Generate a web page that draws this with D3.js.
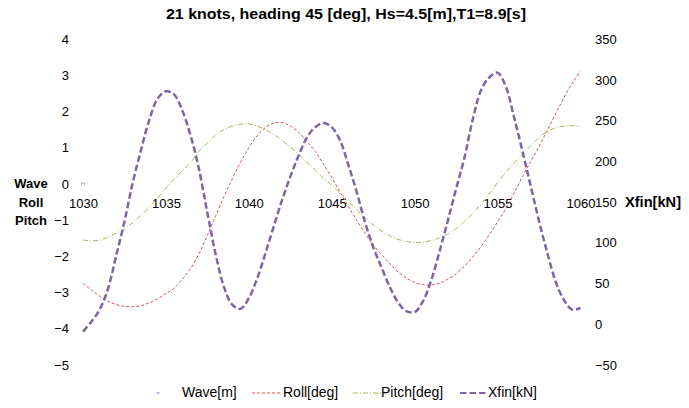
<!DOCTYPE html>
<html><head><meta charset="utf-8">
<script src="https://cdn.jsdelivr.net/npm/d3@7/dist/d3.min.js"></script>
<style>
body{margin:0;background:#fff}
svg{display:block}
text{font-family:"Liberation Sans",Arial,sans-serif;fill:#000}
</style>
</head><body>
<svg id="chart" width="689" height="408"></svg>
<script>
const titleText = "21 knots, heading 45 [deg], Hs=4.5[m],T1=8.9[s]";
const leftTitle = ["Wave", "Roll", "Pitch"];
const rightTitle = "Xfin[kN]";

const time = [1030,1030.5,1031,1031.5,1032,1032.5,1033,1033.5,1034,1034.5,1035,1035.5,1036,1036.5,1037,1037.5,1038,1038.5,1039,1039.5,
  1040,1040.5,1041,1041.5,1042,1042.5,1043,1043.5,1044,1044.5,1045,1045.5,1046,1046.5,1047,1047.5,1048,1048.5,1049,1049.5,
  1050,1050.5,1051,1051.5,1052,1052.5,1053,1053.5,1054,1054.5,1055,1055.5,1056,1056.5,1057,1057.5,1058,1058.5,1059,1059.5,1060];

const waveTime = [1030];
const wave = [0];

const roll = [-2.74,-2.93,-3.10,-3.24,-3.33,-3.38,-3.39,-3.36,-3.28,-3.17,-3.03,-2.88,-2.62,-2.33,-1.92,-1.42,-0.88,-0.35,0.14,0.60,
  1.00,1.33,1.56,1.68,1.70,1.60,1.43,1.18,0.90,0.55,0.18,-0.22,-0.62,-1.00,-1.35,-1.68,-1.95,-2.20,-2.43,-2.60,
  -2.72,-2.78,-2.79,-2.74,-2.63,-2.48,-2.27,-2.02,-1.73,-1.41,-1.05,-0.68,-0.25,0.20,0.62,1.03,1.48,1.93,2.38,2.78,3.12];

const pitch = [-1.55,-1.57,-1.55,-1.47,-1.36,-1.25,-1.06,-0.86,-0.64,-0.39,-0.11,0.14,0.37,0.60,0.91,1.14,1.35,1.50,1.60,1.65,
  1.66,1.60,1.50,1.37,1.20,1.02,0.82,0.60,0.38,0.16,-0.03,-0.25,-0.48,-0.71,-0.93,-1.13,-1.30,-1.43,-1.53,-1.59,
  -1.62,-1.61,-1.56,-1.49,-1.38,-1.23,-1.04,-0.82,-0.55,-0.28,0.04,0.32,0.58,0.82,1.05,1.28,1.45,1.55,1.60,1.61,1.58];

const xfin = [-9,3,18,43,84,126,174,214,251,277,286,282,262,231,190,137,86,46,24,19,
  32,56,87,120,152,181,207,229,242,247,242,226,196,163,126,95,70,46,27,16,
  15,28,54,89,127,166,204,251,287,303,309,292,254,213,170,127,88,53,30,18,20];

const xTicks = [1030,1035,1040,1045,1050,1055,1060];
const leftTicks = [4,3,2,1,0,-1,-2,-3,-4,-5];
const rightTicks = [350,300,250,200,150,100,50,0,-50];

const seriesNames = ["Wave[m]","Roll[deg]","Pitch[deg]","Xfin[kN]"];
const seriesColors = ["#4F81BD","#D9534F","#9BBB59","#8064A2"];
const seriesDash = ["2,30","3,2","5,2,1,2","6.5,3"];
const seriesWidth = [1,1,1,2.5];

const svg = d3.select("#chart");
const L = 83, R = 580.4, T = 39.2, B = 365;

const x = d3.scaleLinear().domain([1030,1060]).range([L,R]);
const yL = d3.scaleLinear().domain([-5,4]).range([B,T]);
const yR = d3.scaleLinear().domain([-50,350]).range([B,T]);

// title
svg.append("text").attr("x",346).attr("y",19).attr("text-anchor","middle")
  .attr("font-size",15).attr("font-weight","bold")
  .attr("textLength",360).attr("lengthAdjust","spacingAndGlyphs")
  .text(titleText);

// left axis
const gl = svg.append("g").attr("transform","translate(69,0)")
  .call(d3.axisLeft(yL).tickValues(leftTicks).tickSize(0).tickPadding(0).tickFormat(d3.format("d")));
gl.select(".domain").remove();
gl.selectAll("text").attr("font-size",13).attr("font-family","Liberation Sans, Arial, sans-serif").attr("fill","#000");

// right axis
const gr = svg.append("g").attr("transform","translate(595,0)")
  .call(d3.axisRight(yR).tickValues(rightTicks).tickSize(0).tickPadding(0).tickFormat(d3.format("d")));
gr.select(".domain").remove();
gr.selectAll("text").attr("font-size",13).attr("font-family","Liberation Sans, Arial, sans-serif").attr("fill","#000");

// bottom axis crossing at 0
const gb = svg.append("g").attr("transform",`translate(0,${yL(0)})`)
  .call(d3.axisBottom(x).tickValues(xTicks).tickSize(0).tickPadding(15).tickFormat(d3.format("d")));
gb.select(".domain").remove();
gb.selectAll("text").attr("font-size",13).attr("font-family","Liberation Sans, Arial, sans-serif").attr("fill","#000");

// axis titles
leftTitle.forEach((s,i)=>{
  svg.append("text").attr("x",31).attr("y",188+i*18.5).attr("text-anchor","middle")
    .attr("font-size",13).attr("font-weight","bold").text(s);
});
svg.append("text").attr("x",625).attr("y",207).attr("font-size",14).attr("font-weight","bold")
  .attr("textLength",56).attr("lengthAdjust","spacingAndGlyphs").text(rightTitle);

// series
const mk = (vals, ts) => vals.map((v,i)=>({t:ts[i], v}));
const lineL = d3.line().x(d=>x(d.t)).y(d=>yL(d.v)).curve(d3.curveCatmullRom);
const lineR = d3.line().x(d=>x(d.t)).y(d=>yR(d.v)).curve(d3.curveCatmullRom);

const plotSeries = [
  {data: mk(roll,time), line: lineL, i:1},
  {data: mk(pitch,time), line: lineL, i:2},
  {data: mk(xfin,time), line: lineR, i:3}
];
plotSeries.forEach(s=>{
  svg.append("path").attr("d",s.line(s.data)).attr("fill","none")
    .attr("stroke",seriesColors[s.i]).attr("stroke-width",seriesWidth[s.i])
    .attr("stroke-dasharray",seriesDash[s.i]);
});
// wave (single point)
mk(wave,waveTime).forEach(d=>{
  svg.append("path").attr("d",`M${x(d.t)-1.5},${yL(d.v)+1}v-2h3v2`).attr("fill","none")
    .attr("stroke","#999").attr("stroke-width",0.8);
});

// legend
const legX = [{sx:152,tx:182},{sx:252,tx:283},{sx:353,tx:381},{sx:460,tx:488}];
seriesNames.forEach((n,i)=>{
  const p = legX[i];
  if (i===0) {
    svg.append("line").attr("x1",p.sx+4.5).attr("x2",p.sx+7.5).attr("y1",393).attr("y2",393)
      .attr("stroke",seriesColors[i]).attr("stroke-width",1);
  } else {
    svg.append("line").attr("x1",p.sx).attr("x2",p.sx+28).attr("y1",393).attr("y2",393)
      .attr("stroke",seriesColors[i]).attr("stroke-width",seriesWidth[i]===2.5?2:1)
      .attr("stroke-dasharray",seriesDash[i]);
  }
  svg.append("text").attr("x",p.tx).attr("y",397).attr("font-size",14).text(n);
});
</script>
</body></html>
